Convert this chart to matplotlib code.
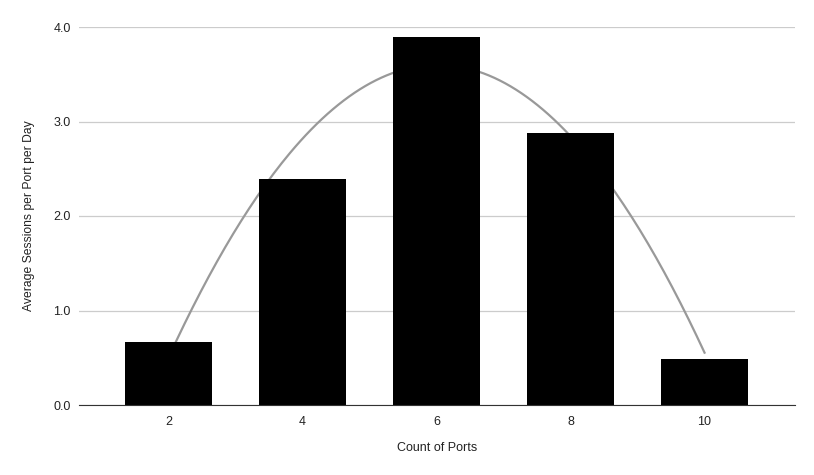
import matplotlib.pyplot as plt
import numpy as np

# Count of ports vs average sessions per port per day
ports = [2, 4, 6, 8, 10]
sessions = [0.667, 2.39, 3.894, 2.88, 0.487]
y_ticks = [0.0, 1.0, 2.0, 3.0, 4.0]

plt.rcParams['font.family'] = ['Liberation Sans', 'DejaVu Sans']

fig = plt.figure(figsize=(8.14, 4.75), dpi=100)
ax = fig.add_axes([79 / 814, 1 - 405 / 475, 716 / 814, 378 / 475])

idx = np.arange(len(ports))
ax.bar(idx, sessions, width=0.65, color="black", zorder=3)

# quadratic trendline fitted to the bars
coef = np.polyfit(ports, sessions, 2)
xs = np.linspace(ports[0], ports[-1], 200)
xs_idx = (xs - ports[0]) / (ports[1] - ports[0])
ax.plot(xs_idx, np.polyval(coef, xs), color="#999999", lw=1.6, zorder=2)

ax.set_xlim(-0.668, len(ports) - 1 + 0.675)
ax.set_ylim(0, 4)
ax.set_xticks(idx)
ax.set_xticklabels([str(p) for p in ports])
ax.set_yticks(y_ticks)
ax.set_yticklabels(["%.1f" % v for v in y_ticks])
ax.tick_params(length=0, labelsize=9, colors="#222222", pad=6)
ax.tick_params(axis="x", pad=8)

ax.grid(axis="y", color="#cccccc", lw=0.9, zorder=0)
for s in ["top", "right", "left"]:
    ax.spines[s].set_visible(False)
ax.spines["bottom"].set_color("#333333")
ax.spines["bottom"].set_zorder(4)

ax.set_xlabel("Count of Ports", fontsize=9, color="#222222", labelpad=10)
ax.set_ylabel("Average Sessions per Port per Day", fontsize=8.7, color="#222222", labelpad=13)

fig.savefig("out.png", dpi=100)
